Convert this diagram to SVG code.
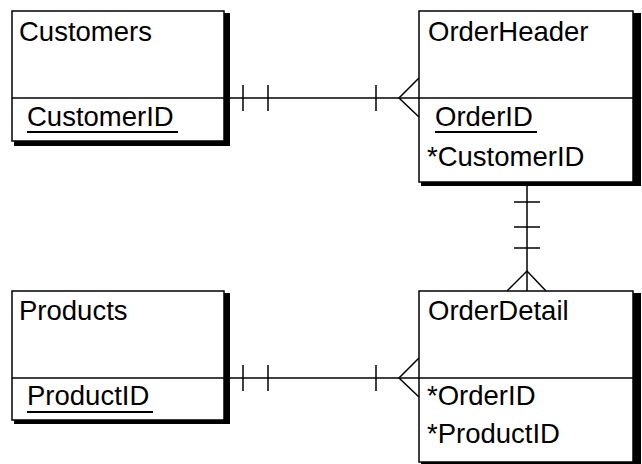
<svg xmlns="http://www.w3.org/2000/svg" width="642" height="464" viewBox="0 0 642 464">
  <style>
    .box { fill: #fff; stroke: #000; stroke-width: 1.5; }
    .shadow { fill: #000; }
    .div { stroke: #000; stroke-width: 1.5; }
    .lbl { font-family: "Liberation Sans", Arial, sans-serif; font-size: 27.5px; fill: #000; }
    .ul { stroke: #000; stroke-width: 2; }
    .conn line, .conn polyline { stroke: #000; stroke-width: 1.5; fill: none; }
  </style>
  <rect width="642" height="464" fill="#fff"/>

  <!-- Relationship lines: one-to-many with crow's feet -->
  <g id="connectors" class="conn">
    <!-- Customers -> OrderHeader -->
    <line x1="224" y1="98" x2="419" y2="98"/>
    <line x1="243" y1="85" x2="243" y2="111"/>
    <line x1="268" y1="85" x2="268" y2="111"/>
    <line x1="376" y1="85" x2="376" y2="111"/>
    <polyline points="419,78 399,98 419,117"/>
    <!-- Products -> OrderDetail -->
    <line x1="224" y1="378" x2="419" y2="378"/>
    <line x1="243" y1="365" x2="243" y2="391"/>
    <line x1="268" y1="365" x2="268" y2="391"/>
    <line x1="376" y1="365" x2="376" y2="391"/>
    <polyline points="419,358 399,378 419,397"/>
    <!-- OrderHeader -> OrderDetail -->
    <line x1="527" y1="182" x2="527" y2="291"/>
    <line x1="514" y1="202" x2="540" y2="202"/>
    <line x1="514" y1="227" x2="540" y2="227"/>
    <line x1="514" y1="248" x2="540" y2="248"/>
    <polyline points="507,291 527,271 546,291"/>
  </g>

  <g id="customers">
    <rect class="shadow" x="14" y="13" width="216" height="133"/>
    <rect class="box" x="12" y="11" width="212" height="130"/>
    <line class="div" x1="12" y1="98" x2="224" y2="98"/>
    <text class="lbl" x="19" y="41">Customers</text>
    <text class="lbl" x="27" y="126">CustomerID</text>
    <line class="ul" x1="27" y1="132" x2="178" y2="132"/>
  </g>

  <g id="orderheader">
    <rect class="shadow" x="421" y="13" width="220" height="173"/>
    <rect class="box" x="419" y="11" width="214" height="171"/>
    <line class="div" x1="419" y1="98" x2="633" y2="98"/>
    <text class="lbl" x="428" y="41">OrderHeader</text>
    <text class="lbl" x="435" y="126">OrderID</text>
    <line class="ul" x1="435" y1="132" x2="537" y2="132"/>
    <text class="lbl" x="427" y="166">*CustomerID</text>
  </g>

  <g id="products">
    <rect class="shadow" x="14" y="293" width="216" height="131"/>
    <rect class="box" x="12" y="291" width="212" height="129"/>
    <line class="div" x1="12" y1="378" x2="224" y2="378"/>
    <text class="lbl" x="19" y="320">Products</text>
    <text class="lbl" x="27" y="405">ProductID</text>
    <line class="ul" x1="27" y1="412" x2="153" y2="412"/>
  </g>

  <g id="orderdetail">
    <rect class="shadow" x="421" y="293" width="220" height="175"/>
    <rect class="box" x="419" y="291" width="214" height="171"/>
    <line class="div" x1="419" y1="378" x2="633" y2="378"/>
    <text class="lbl" x="428" y="320">OrderDetail</text>
    <text class="lbl" x="427" y="405">*OrderID</text>
    <text class="lbl" x="427" y="443">*ProductID</text>
  </g>
</svg>
